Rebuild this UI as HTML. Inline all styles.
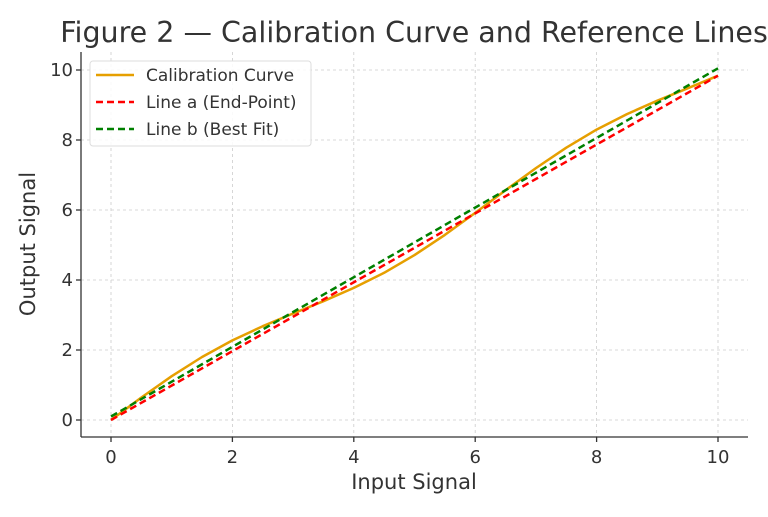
<!DOCTYPE html><html><head><style>body{margin:0;background:#fff}svg text{font-family:"DejaVu Sans","Liberation Sans",sans-serif;fill:#333}</style></head><body>
<svg width="768" height="512" viewBox="0 0 768 512" xmlns="http://www.w3.org/2000/svg">
<rect width="768" height="512" fill="#fff"/>
<g stroke="#ccc" stroke-width="0.8" stroke-dasharray="3,3">
<line x1="111" y1="52" x2="111" y2="437"/><line x1="232.4" y1="52" x2="232.4" y2="437"/><line x1="353.8" y1="52" x2="353.8" y2="437"/><line x1="475.2" y1="52" x2="475.2" y2="437"/><line x1="596.6" y1="52" x2="596.6" y2="437"/><line x1="718" y1="52" x2="718" y2="437"/>
<line x1="81" y1="420" x2="748" y2="420"/><line x1="81" y1="350" x2="748" y2="350"/><line x1="81" y1="280" x2="748" y2="280"/><line x1="81" y1="210" x2="748" y2="210"/><line x1="81" y1="140" x2="748" y2="140"/><line x1="81" y1="70" x2="748" y2="70"/>
</g>
<g stroke="#333" stroke-width="1.3">
<line x1="81" y1="52" x2="81" y2="437"/><line x1="81" y1="437" x2="748" y2="437"/>
<line x1="111" y1="437" x2="111" y2="442"/><line x1="232.4" y1="437" x2="232.4" y2="442"/><line x1="353.8" y1="437" x2="353.8" y2="442"/><line x1="475.2" y1="437" x2="475.2" y2="442"/><line x1="596.6" y1="437" x2="596.6" y2="442"/><line x1="718" y1="437" x2="718" y2="442"/>
<line x1="76" y1="420" x2="81" y2="420"/><line x1="76" y1="350" x2="81" y2="350"/><line x1="76" y1="280" x2="81" y2="280"/><line x1="76" y1="210" x2="81" y2="210"/><line x1="76" y1="140" x2="81" y2="140"/><line x1="76" y1="70" x2="81" y2="70"/>
</g>
<g font-size="18" text-anchor="middle">
<text x="111" y="463">0</text><text x="232.4" y="463">2</text><text x="353.8" y="463">4</text><text x="475.2" y="463">6</text><text x="596.6" y="463">8</text><text x="718" y="463">10</text>
</g>
<g font-size="18" text-anchor="end">
<text x="73" y="426">0</text><text x="73" y="356">2</text><text x="73" y="286">4</text><text x="73" y="216">6</text><text x="73" y="146">8</text><text x="73" y="76">10</text>
</g>
<text x="414" y="489" font-size="21" text-anchor="middle">Input Signal</text>
<text transform="translate(35,244) rotate(-90)" font-size="21" text-anchor="middle">Output Signal</text>
<text x="414" y="42" font-size="28.5" text-anchor="middle">Figure 2 — Calibration Curve and Reference Lines</text>
<polyline fill="none" stroke="#e69f00" stroke-width="2.5" stroke-linejoin="round" points="111,420 141.35,397.5 171.7,376.2 202.05,357 232.4,340.4 262.75,326.2 293.1,313.5 323.45,301.2 353.8,287.9 384.15,272.8 414.5,255.1 444.85,234.9 475.2,212.9 505.55,190.2 535.9,168.1 566.25,147.7 596.6,129.6 626.95,114.1 657.3,100.7 687.65,88.3 718,75.7"/>
<line x1="111" y1="420" x2="718" y2="75.7" stroke="#ff0000" stroke-width="2.5" stroke-dasharray="7,4"/>
<line x1="111" y1="416.5" x2="718" y2="68.3" stroke="#008000" stroke-width="2.5" stroke-dasharray="7,4"/>
<rect x="90" y="61" width="221" height="85" rx="3" fill="#fff" fill-opacity="0.85" stroke="#ddd"/>
<line x1="96" y1="75" x2="134" y2="75" stroke="#e69f00" stroke-width="2.5"/>
<line x1="96" y1="102" x2="134" y2="102" stroke="#ff0000" stroke-width="2.5" stroke-dasharray="7,4"/>
<line x1="96" y1="129" x2="134" y2="129" stroke="#008000" stroke-width="2.5" stroke-dasharray="7,4"/>
<g font-size="17"><text x="146" y="81">Calibration Curve</text><text x="146" y="108">Line a (End-Point)</text><text x="146" y="135">Line b (Best Fit)</text></g>
</svg></body></html>
